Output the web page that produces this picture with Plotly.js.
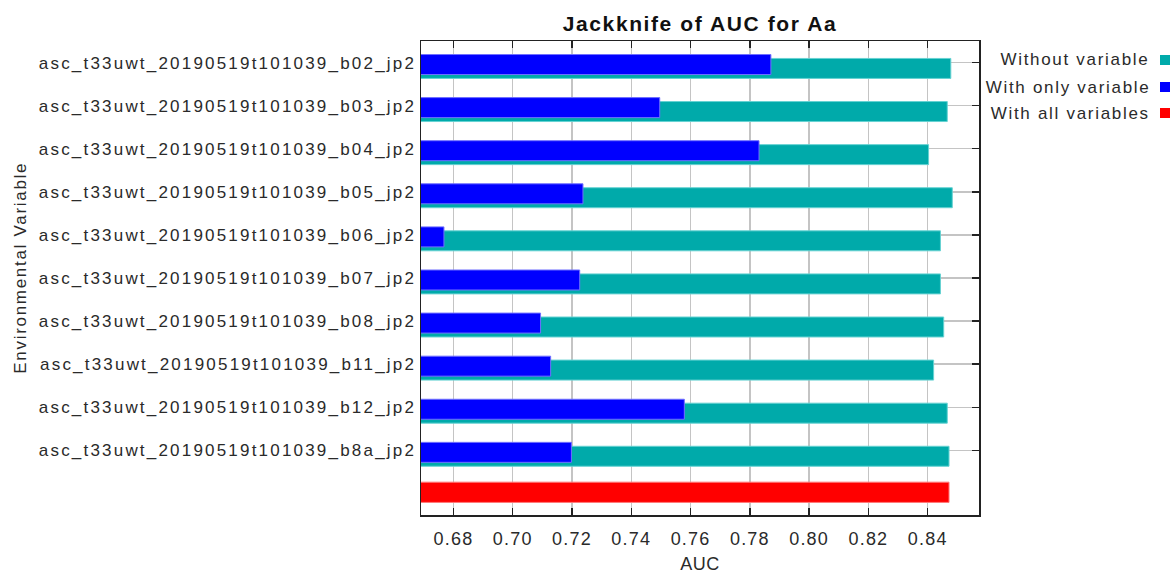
<!DOCTYPE html>
<html>
<head>
<meta charset="utf-8">
<script src="https://cdn.plot.ly/plotly-3.0.1.min.js"></script>
<style>
  html, body { margin: 0; padding: 0; background: #fff; }
  #chart { width: 1173px; height: 574px; }
  /* the Java-style chart text is set a little wider than the stock font */
  #chart .ytick text { letter-spacing: 2.2px; }
  #chart .xtick text { letter-spacing: 1.2px; }
  #chart .gtitle { letter-spacing: 1.6px; }
  #chart .xtitle { letter-spacing: 0.5px; }
  #chart .annotation-text { letter-spacing: 1.7px; }
</style>
</head>
<body>
<div id="chart"></div>
<script>
// Jackknife test of variable importance (AUC), species "Aa"
const variables = [
  "asc_t33uwt_20190519t101039_b02_jp2",
  "asc_t33uwt_20190519t101039_b03_jp2",
  "asc_t33uwt_20190519t101039_b04_jp2",
  "asc_t33uwt_20190519t101039_b05_jp2",
  "asc_t33uwt_20190519t101039_b06_jp2",
  "asc_t33uwt_20190519t101039_b07_jp2",
  "asc_t33uwt_20190519t101039_b08_jp2",
  "asc_t33uwt_20190519t101039_b11_jp2",
  "asc_t33uwt_20190519t101039_b12_jp2",
  "asc_t33uwt_20190519t101039_b8a_jp2"
];
const withoutVariable  = [0.8478, 0.8466, 0.8403, 0.8483, 0.8443, 0.8443, 0.8454, 0.8420, 0.8466, 0.8472];
const withOnlyVariable = [0.7871, 0.7496, 0.7831, 0.7237, 0.6768, 0.7226, 0.7094, 0.7128, 0.7579, 0.7198];
const withAllVariables = 0.8472;

const seriesNames  = ["Without variable", "With only variable", "With all variables"];
const seriesColors = ["#00aaaa", "#0000ff", "#ff0000"];
const edgeColors   = ["#66d2d2", "#6f6fff", "#ff7a7a"];

const xTicks = [0.68, 0.70, 0.72, 0.74, 0.76, 0.78, 0.80, 0.82, 0.84];

const rows = variables.map((_, i) => i);
const allRow = variables.length;

const FONT = "Liberation Sans, Arial, sans-serif";
const TXT = "#2a2a2a";
const ANN_SPACING = 1.7; // must agree with the .annotation-text rule above

const traces = [
  {
    type: "bar", orientation: "h", name: seriesNames[0],
    x: withoutVariable, y: rows,
    width: 0.464, offset: -0.095,
    marker: { color: seriesColors[0], line: { color: edgeColors[0], width: 1 } },
    hoverinfo: "x+name"
  },
  {
    type: "bar", orientation: "h", name: seriesNames[1],
    x: withOnlyVariable, y: rows,
    width: 0.464, offset: -0.186,
    marker: { color: seriesColors[1], line: { color: edgeColors[1], width: 1 } },
    hoverinfo: "x+name"
  },
  {
    type: "bar", orientation: "h", name: seriesNames[2],
    x: [withAllVariables], y: [allRow],
    width: 0.47, offset: -0.262,
    marker: { color: seriesColors[2], line: { color: edgeColors[2], width: 1 } },
    hoverinfo: "x+name"
  },
  // invisible helper trace carrying the right-hand tick axis
  { type: "scatter", x: [], y: [], yaxis: "y2", showlegend: false, hoverinfo: "skip" }
];

// plot area in pixels (used for the legend and axis title placed by hand)
const M = { l: 421, r: 194, t: 41, b: 59 };
const W = 1173, H = 574;
const PW = W - M.l - M.r, PH = H - M.t - M.b;
const px2x = px => (px - M.l) / PW;
const px2y = py => (H - M.b - py) / PH;

const legendRowsPx = [60, 87, 113];
const annotations = seriesNames.map((name, i) => ({
  xref: "paper", yref: "paper",
  // the anchor is measured without the extra letter spacing, which spreads both ways
  x: px2x(1152 - name.length * ANN_SPACING / 2), y: px2y(legendRowsPx[i]),
  xanchor: "right", yanchor: "middle",
  text: name, showarrow: false,
  font: { family: FONT, size: 17, color: TXT }
}));
annotations.push({
  xref: "paper", yref: "paper",
  x: px2x(20), y: px2y(268),
  xanchor: "center", yanchor: "middle", textangle: -90,
  text: "Environmental Variable", showarrow: false,
  font: { family: FONT, size: 17, color: TXT }
});
const shapes = seriesColors.map((c, i) => ({
  type: "rect", xref: "paper", yref: "paper",
  x0: px2x(1160), x1: px2x(1170),
  y0: px2y(legendRowsPx[i] + 5), y1: px2y(legendRowsPx[i] - 5),
  fillcolor: c, line: { width: 0 }
}));

const layout = {
  width: W, height: H,
  margin: M,
  paper_bgcolor: "#ffffff", plot_bgcolor: "#ffffff",
  barmode: "overlay",
  showlegend: false,
  font: { family: FONT, color: TXT },
  title: {
    text: "<b>Jackknife of AUC for Aa</b>",
    x: 0.5, xref: "paper", xanchor: "center",
    y: 1 - 24 / H, yref: "container", yanchor: "middle",
    font: { family: FONT, size: 21, color: "#111" }
  },
  xaxis: {
    range: [0.66906, 0.85731],
    tickvals: xTicks, ticktext: xTicks.map(v => v.toFixed(2)),
    ticks: "inside", ticklen: 7, tickwidth: 1.5, tickcolor: "#222",
    ticklabelstandoff: 7,
    showline: true, linecolor: "#222", linewidth: 1.5, mirror: "ticks",
    showgrid: true, gridcolor: "#c4c4c4", gridwidth: 1.5,
    zeroline: false,
    tickfont: { family: FONT, size: 18, color: TXT },
    title: { text: "AUC", font: { family: FONT, size: 18, color: TXT }, standoff: 11 },
    automargin: false
  },
  yaxis: {
    range: [10.5, -0.5],
    tickvals: rows, ticktext: variables,
    ticks: "", showline: true, linecolor: "#222", linewidth: 1.5, mirror: true,
    showgrid: true, gridcolor: "#c4c4c4", gridwidth: 1.5,
    zeroline: false,
    tickfont: { family: FONT, size: 17, color: TXT },
    automargin: false
  },
  yaxis2: {
    overlaying: "y", side: "right", matches: "y",
    range: [10.5, -0.5],
    tickvals: rows, showticklabels: false,
    ticks: "inside", ticklen: 7, tickwidth: 1.5, tickcolor: "#222",
    showgrid: false, zeroline: false, showline: false
  },
  annotations: annotations,
  shapes: shapes
};

Plotly.newPlot("chart", traces, layout, { displayModeBar: false, staticPlot: true });
</script>
</body>
</html>
